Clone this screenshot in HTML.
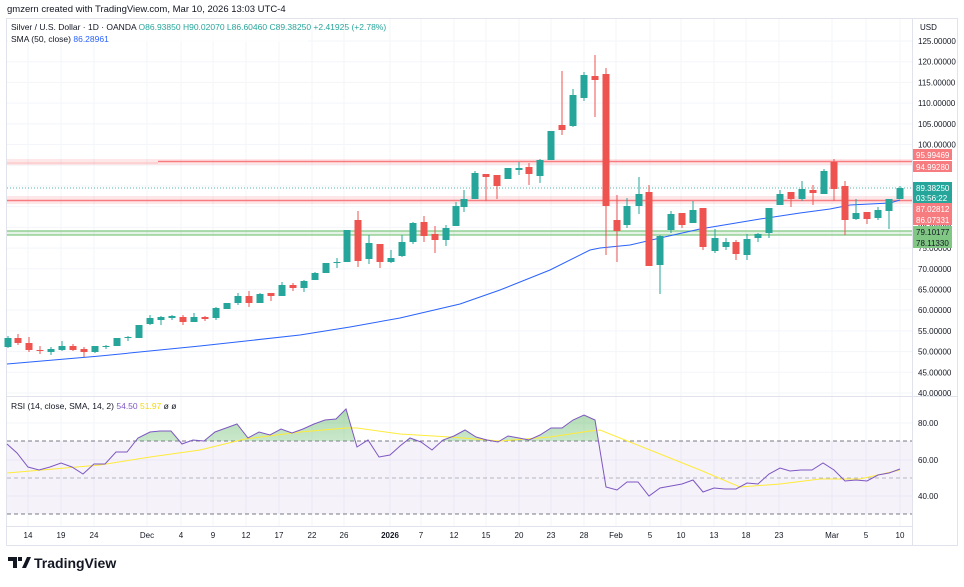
<!DOCTYPE html>
<html><head><meta charset="utf-8"><style>
body{margin:0;background:#fff;width:964px;height:582px;overflow:hidden;font-family:"Liberation Sans",sans-serif}
</style></head><body>
<svg width="964" height="582" viewBox="0 0 964 582" xmlns="http://www.w3.org/2000/svg" font-family="Liberation Sans, sans-serif">
<text x="7" y="12" font-size="9.5" fill="#131722">gmzern created with TradingView.com, Mar 10, 2026 13:03 UTC-4</text>
<rect x="6.5" y="18.5" width="951" height="527" fill="none" stroke="#e0e3eb"/>
<g id="grid" stroke="#f3f5fa" stroke-width="1">
</g>
<rect x="7" y="441" width="905" height="73" fill="#7e57c2" fill-opacity="0.08"/>
<line x1="7" y1="441" x2="912" y2="441" stroke="#787b86" stroke-dasharray="4,3"/>
<line x1="7" y1="478" x2="912" y2="478" stroke="#787b86" stroke-opacity="0.5" stroke-dasharray="4,3"/>
<line x1="7" y1="514" x2="912" y2="514" stroke="#787b86" stroke-dasharray="4,3"/>
<rect x="7" y="159" width="905" height="6" fill="#f23645" fill-opacity="0.12"/>
<line x1="158" y1="161.5" x2="912" y2="161.5" stroke="#f77c80" stroke-width="1.5"/>
<line x1="7" y1="163" x2="158" y2="163" stroke="#f77c80" stroke-opacity="0.4"/>
<rect x="7" y="196" width="905" height="8" fill="#f23645" fill-opacity="0.12"/>
<line x1="7" y1="200.5" x2="912" y2="200.5" stroke="#f77c80" stroke-width="1.5"/>
<rect x="7" y="231" width="905" height="4" fill="#4caf50" fill-opacity="0.15"/>
<line x1="7" y1="231" x2="912" y2="231" stroke="#81c784" stroke-width="1.3"/>
<line x1="7" y1="235" x2="912" y2="235" stroke="#81c784" stroke-width="1.3"/>
<line x1="7" y1="188" x2="912" y2="188" stroke="#26a69a" stroke-dasharray="1,2" stroke-opacity="0.8"/>
<polyline fill="none" stroke="#2962ff" stroke-width="1" points="7,364 100,356 200,346 300,335 350,327 400,318 460,304 500,290 550,270 590,250 600,248 630,245 660,238 700,229 760,219 800,213 830,209 850,205 890,203 900,200"/>
<g id="candles"></g>
<defs>
<linearGradient id="gg" x1="0" y1="0" x2="0" y2="1"><stop offset="0" stop-color="#4caf50" stop-opacity="0.45"/><stop offset="1" stop-color="#4caf50" stop-opacity="0.03"/></linearGradient>
<clipPath id="above"><rect x="7" y="398" width="905" height="43"/></clipPath>
</defs>
<polygon id="rsifill" clip-path="url(#above)" fill="url(#gg)"/>
<polyline fill="none" stroke="#ffeb3b" stroke-width="1" points="7,473 100,465 150,457 200,450 245,439 300,432 346,428 357,428 400,434 450,437 500,441 550,437 590,431 600,430 650,450 700,470 740,487 780,484 820,479 860,479 900,470"/>
<polyline id="rsi" fill="none" stroke="#7e57c2" stroke-width="1"/>
<line x1="7" y1="396.5" x2="958" y2="396.5" stroke="#e0e3eb"/>
<line x1="912.5" y1="19" x2="912.5" y2="545" stroke="#e0e3eb"/>
<line x1="7" y1="526.5" x2="912" y2="526.5" stroke="#e0e3eb"/>
<rect x="8" y="20" width="300" height="22" fill="#fff" fill-opacity="0.7"/>
<text x="11" y="30" font-size="8.5" fill="#131722">Silver / U.S. Dollar · 1D · OANDA <tspan fill="#26a69a">O86.93850 H90.02070 L86.60460 C89.38250 +2.41925 (+2.78%)</tspan></text>
<text x="11" y="42" font-size="8.5" fill="#131722">SMA (50, close) <tspan fill="#2962ff">86.28961</tspan></text>
<text x="11" y="409" font-size="8.5" fill="#131722">RSI (14, close, SMA, 14, 2) <tspan fill="#7e57c2">54.50</tspan> <tspan fill="#f5d90a">51.97</tspan> ø ø</text>
<text x="920" y="30" font-size="8" fill="#131722">USD</text>
<g id="axis" font-size="8" fill="#131722"></g>
<g font-size="8" fill="#fff">
<rect x="913" y="149" width="39" height="11" fill="#f77c80"/><text x="916" y="158">95.99469</text>
<rect x="913" y="161" width="39" height="11" fill="#f77c80"/><text x="916" y="170">94.99280</text>
<rect x="913" y="182" width="39" height="21" fill="#26a69a"/><text x="916" y="191">89.38250</text><text x="916" y="201">03:56:22</text>
<rect x="913" y="203" width="39" height="11" fill="#f77c80"/><text x="916" y="212">87.02812</text>
<rect x="913" y="214" width="39" height="11" fill="#f77c80"/><text x="916" y="223">86.07331</text>
<rect x="913" y="226" width="39" height="11" fill="#81c784"/><text x="916" y="235" fill="#131722">79.10177</text>
<rect x="913" y="237" width="39" height="11" fill="#81c784"/><text x="916" y="246" fill="#131722">78.11330</text>
</g>
<text x="918" y="426" font-size="8" fill="#131722">80.00</text>
<text x="918" y="463" font-size="8" fill="#131722">60.00</text>
<text x="918" y="499" font-size="8" fill="#131722">40.00</text>
<g id="xlab" font-size="8" fill="#131722" text-anchor="middle"></g>
<g transform="translate(8,556)"><path d="M0 1h9v11h-4v-7h-5z M10 1h4v4h-4z M14 12l5-11h4l-5 11z" fill="#131722"/></g>
<text x="34" y="568" font-size="14" font-weight="bold" fill="#131722">TradingView</text>
</svg>
<script>
const NS="http://www.w3.org/2000/svg";
function el(p,t,a,txt){const e=document.createElementNS(NS,t);for(const k in a)e.setAttribute(k,a[k]);if(txt)e.textContent=txt;document.getElementById(p).appendChild(e);return e;}
const xs=[28,61,94,147,181,213,246,279,312,344,390,421,454,486,519,551,584,616,650,681,714,746,779,832,866,900];
const xl=["14","19","24","Dec","4","9","12","17","22","26","2026","7","12","15","20","23","28","Feb","5","10","13","18","23","Mar","5","10"];
xs.forEach((x,i)=>{el("grid","line",{x1:x,y1:19,x2:x,y2:526});el("xlab","text",{x:x,y:538,"font-weight":xl[i]=="2026"?"bold":"normal"},xl[i]);});
for(let p=40;p<=125;p+=5){const y=393-(p-40)*4.141;el("grid","line",{x1:7,y1:y,x2:912,y2:y});el("axis","text",{x:918,y:y+3},p.toFixed(5));}
[423,460,496].forEach(y=>el("grid","line",{x1:7,y1:y,x2:912,y2:y}));
const C=[[8,347,338,336,348],[18,338,343,334,345],[29,343,350,337,352],[40,350,350.5,346,354],[51,352,349,347,355],[62,350,346,341,351],[73,346,350,344,351],[84,349,352,347,357],[95,352,346,346,353],[106,346.5,346,345,349],[117,346,338,338,346],[128,337.5,337,336,341],[139,338,325,325,338],[150,324,318,315,325],[161,320,317,316,325],[172,318,316,315,320],[183,317,322,315,325],[194,322,317,313,322],[205,317,319,316,321],[216,318,308,307,320],[227,309,303,303,309],[238,303,296,293,305],[249,296,303,291,307],[260,303,294,293,303],[271,293,296,293,301],[282,296,285,282,296],[293,285,288,283,291],[304,288,281,280,292],[315,280,273,272,280],[326,273,263,263,273],[337,262.5,262,258,268],[347,262,230,230,262],[358,220,261,211,267],[369,259,243,235,264],[380,244,262,244,268],[391,262,258,250,263],[402,256,242,235,257],[413,242,223,222,244],[424,222,236,216,242],[435,234,240,226,253],[446,240,228,225,246],[456,226,206,202,226],[464,207,199,190,212],[475,199,173,171,199],[486,174,177,174,201],[497,175,186,175,199],[508,179,168,168,179],[519,170,168,162,175],[529,167,174,163,185],[540,176,160,159,183],[551,160,131,131,160],[562,125,130,71,135],[573,126,95,89,127],[584,98,75,72,101],[595,76,80,55,117],[606,74,206,68,255],[617,220,231,195,262],[627,225,206,198,228],[639,206,194,177,214],[649,192,266,185,266],[660,265,236,235,294],[671,230,214,211,233],[682,213,225,213,228],[693,223,210,201,223],[703,208,247,208,250],[715,251,238,229,253],[726,247,242,238,250],[736,242,254,240,260],[747,255,239,234,260],[758,238,234,233,242],[769,233,208,208,238],[780,205,194,190,205],[791,192,199,192,207],[802,199,189,181,201],[813,190,193,185,205],[824,194,171,169,194],[834,162,189,159,201],[845,186,220,181,235],[856,219,213,199,220],[867,212,219,212,224],[878,218,210,207,220],[889,211,199,199,229],[900,199,188,186,199]];
C.forEach(c=>{const[x,o,cl,h,l]=c;const up=cl<=o;const col=up?"#26a69a":"#ef5350";
el("candles","line",{x1:x,y1:h,x2:x,y2:l,stroke:col,"stroke-width":1});
el("candles","rect",{x:x-3.5,y:Math.min(o,cl),width:7,height:Math.max(1,Math.abs(o-cl)),fill:col});});
const R="7,444 17,453 28,467 39,470 50,467 61,463 72,467 83,474 94,464 105,464 116,452 127,452 138,438 150,432 160,431 171,431 182,444 193,440 204,441 215,432 226,428 237,424 248,438 259,432 270,435 281,429 292,433 303,429 314,424 325,420 336,419 346,409 357,447 368,440 379,457 390,455 400,446 410,438 421,442 432,450 443,440 454,436 465,430 476,437 487,440 498,442 508,436 519,438 529,440 540,435 551,428 562,428 573,420 584,415 595,420 606,487 617,490 627,482 638,482 649,496 660,488 671,486 682,484 693,480 703,492 714,488 725,489 736,489 747,483 758,484 769,474 780,468 790,471 801,470 812,470 823,463 834,470 845,481 856,480 867,481 878,475 889,473 900,469";
document.getElementById("rsi").setAttribute("points",R);
document.getElementById("rsifill").setAttribute("points","7,441 "+R+" 900,441");
</script>
</body></html>
